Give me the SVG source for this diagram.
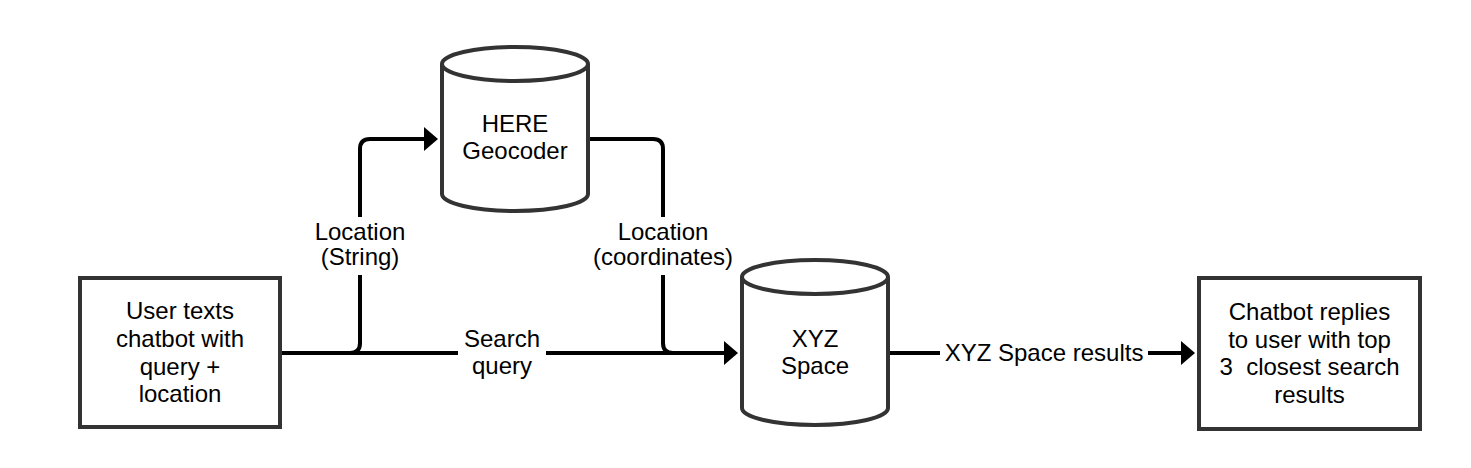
<svg xmlns="http://www.w3.org/2000/svg" width="1471" height="468" viewBox="0 0 1471 468">
<style>
.shape{fill:#fff;stroke:#333;stroke-width:4}
.edge{fill:none;stroke:#000;stroke-width:4}
text{font-family:"Liberation Sans",Arial,sans-serif;font-size:24px;fill:#000;text-anchor:middle}
.lbl{fill:#fff;stroke:none}
</style>
<defs>
<marker id="arr" viewBox="0 0 14 24" refX="4" refY="12" markerWidth="14" markerHeight="24" markerUnits="userSpaceOnUse" orient="auto">
<path d="M0,0 L14,12 L0,24 z" fill="#000"/>
</marker>
</defs>
<rect width="1471" height="468" fill="#fff"/>
<g id="connectors">
<path class="edge" d="M282,353 H728" marker-end="url(#arr)"/>
<path class="edge" d="M282,353 H350 Q360,353 360,343 V149 Q360,139 370,139 H428" marker-end="url(#arr)"/>
<path class="edge" d="M588,139 H653 Q663,139 663,149 V343 Q663,353 673,353 H700"/>
<path class="edge" d="M888,353 H1185" marker-end="url(#arr)"/>
<rect class="lbl" x="310" y="217" width="100" height="58"/>
<text x="360" y="240">Location</text>
<text x="360" y="265">(String)</text>
<rect class="lbl" x="588" y="217" width="150" height="58"/>
<text x="663" y="240">Location</text>
<text x="663" y="265">(coordinates)</text>
<rect class="lbl" x="458" y="325" width="88" height="58"/>
<text x="502" y="347">Search</text>
<text x="502" y="374">query</text>
<rect class="lbl" x="940" y="338" width="208" height="30"/>
<text x="1044" y="361">XYZ Space results</text>
</g>
<g id="user">
<rect class="shape" x="80" y="278" width="200" height="149"/>
<text x="180" y="319">User texts</text>
<text x="180" y="347">chatbot with</text>
<text x="180" y="374.5">query +</text>
<text x="180" y="402">location</text>
</g>
<g id="here">
<path class="shape" d="M442,64 A73,17 0 0 1 588,64 V194 A73,17 0 0 1 442,194 Z"/>
<path class="shape" d="M442,64 A73,17 0 0 0 588,64" fill="none"/>
<text x="515" y="132">HERE</text>
<text x="515" y="159">Geocoder</text>
</g>
<g id="xyz">
<path class="shape" d="M742,277 A73,17 0 0 1 888,277 V408 A73,17 0 0 1 742,408 Z"/>
<path class="shape" d="M742,277 A73,17 0 0 0 888,277" fill="none"/>
<text x="815" y="347">XYZ</text>
<text x="815" y="374">Space</text>
</g>
<g id="reply">
<rect class="shape" x="1199" y="278" width="221" height="151"/>
<text x="1309.5" y="320">Chatbot replies</text>
<text x="1309.5" y="347.5">to user with top</text>
<text x="1309.5" y="375" xml:space="preserve">3  closest search</text>
<text x="1309.5" y="402.5">results</text>
</g>
</svg>
